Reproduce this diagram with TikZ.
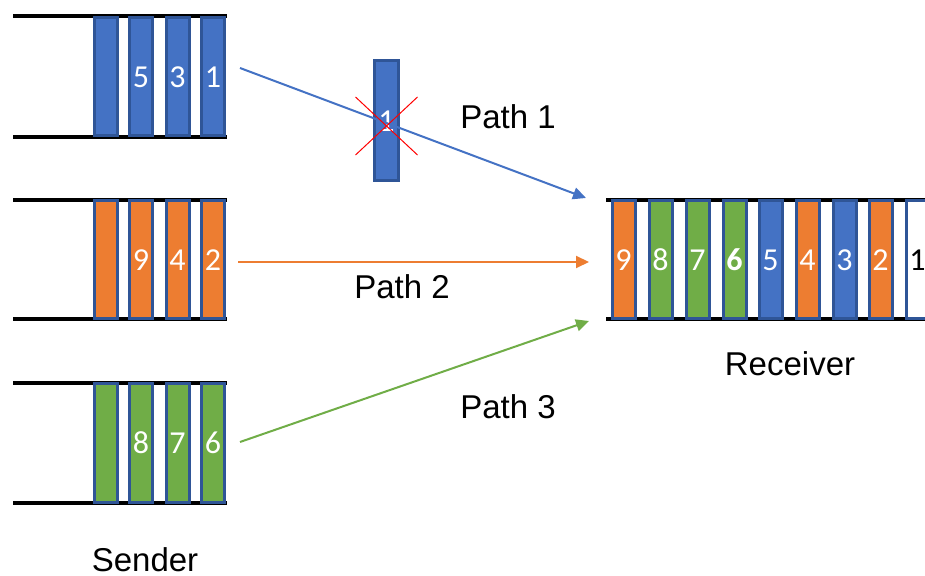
\documentclass[tikz,border=0pt]{standalone}
\usepackage{fontspec}
\setmainfont{Liberation Sans}
\newfontfamily\numfont{Carlito}
\usetikzlibrary{arrows.meta}
\definecolor{pktblue}{HTML}{4472C4}
\definecolor{pktorange}{HTML}{ED7D31}
\definecolor{pktgreen}{HTML}{70AD47}
\definecolor{pktedge}{HTML}{2F5597}
\tikzset{
  pkt/.style={draw=pktedge, line width=1.5pt, minimum width=11.5pt, minimum height=59pt,
    inner sep=0pt, text=white, font=\numfont\fontsize{16}{16}\selectfont},
  bluepkt/.style={pkt, fill=pktblue},
  orangepkt/.style={pkt, fill=pktorange},
  greenpkt/.style={pkt, fill=pktgreen},
  rail/.style={line width=2pt, black},
  lbl/.style={font=\fontsize{16.5}{18}\selectfont, inner sep=0pt},
  link/.style={line width=1pt, -{Triangle[length=6.5pt,width=6pt]}}
}
\begin{document}
\begin{tikzpicture}[x=0.5pt,y=-0.5pt]
\useasboundingbox (0,0) rectangle (925,576);

% sender queue 1 (blue)
\draw[rail] (13,16) -- (227,16);
\draw[rail] (13,137) -- (227,137);
\node[bluepkt] (a4) at (106,77) {};
\node[bluepkt] (a3) at (141,77) {5};
\node[bluepkt] (a2) at (177.5,77) {3};
\node[bluepkt] (a1) at (213,77) {1};

% sender queue 2 (orange)
\draw[rail] (13,200) -- (227,200);
\draw[rail] (13,319) -- (227,319);
\node[orangepkt] (b4) at (106,260) {};
\node[orangepkt] (b3) at (141,260) {9};
\node[orangepkt] (b2) at (177.5,260) {4};
\node[orangepkt] (b1) at (213,260) {2};

% sender queue 3 (green)
\draw[rail] (13,383) -- (227,383);
\draw[rail] (13,503) -- (227,503);
\node[greenpkt] (c4) at (106,443) {};
\node[greenpkt] (c3) at (141,443) {8};
\node[greenpkt] (c2) at (177.5,443) {7};
\node[greenpkt] (c1) at (213,443) {6};

% receiver queue
\draw[rail] (606,200) -- (935,200);
\draw[rail] (606,319) -- (935,319);
\node[orangepkt] (r9) at (623.5,260) {9};
\node[greenpkt]  (r8) at (660.5,260) {8};
\node[greenpkt]  (r7) at (697.5,260) {7};
\node[greenpkt]  (r6) at (734.5,260) {\bfseries 6};
\node[bluepkt]   (r5) at (770.5,260) {5};
\node[orangepkt] (r4) at (807.5,260) {4};
\node[bluepkt]   (r3) at (844.5,260) {3};
\node[orangepkt] (r2) at (880.5,260) {2};
\node[pkt, fill=white, text=black] (r1) at (917.5,260) {1};

% lost packet
\node[bluepkt] (lost) at (386.5,121) [minimum height=60pt, minimum width=12pt] {1};

% paths
\coordinate (p1s) at (240,68);
\coordinate (p1e) at (586,198);
\coordinate (p2s) at (238,262);
\coordinate (p2e) at (589,262);
\coordinate (p3s) at (240,442);
\coordinate (p3e) at (589,321);
\draw[link, pktblue] (p1s) -- (p1e);
\draw[link, pktorange] (p2s) -- (p2e);
\draw[link, pktgreen] (p3s) -- (p3e);

% lost packet crossed out
\draw[red, line width=0.5pt] ([shift={(-31,-24)}]lost.center) -- ([shift={(31,34)}]lost.center);
\draw[red, line width=0.5pt] ([shift={(31,-24)}]lost.center) -- ([shift={(-31,34)}]lost.center);

% labels
\node[lbl] (l1) at (508,117) {Path 1};
\node[lbl] (l2) at (402,287) {Path 2};
\node[lbl] (l3) at (508,407) {Path 3};
\node[lbl] (rcv) at (790,364) {Receiver};
\node[lbl] (snd) at (145,559.5) {Sender};
\end{tikzpicture}
\end{document}
